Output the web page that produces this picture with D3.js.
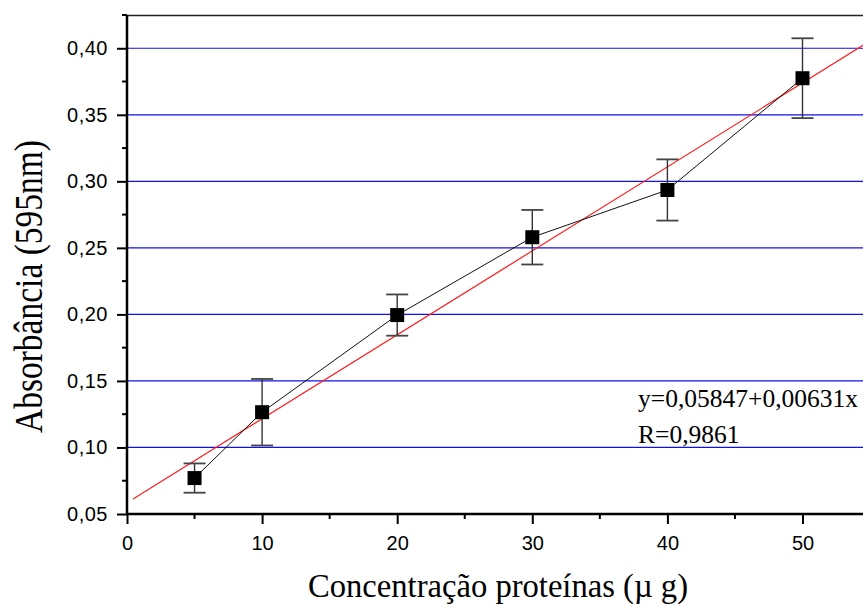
<!DOCTYPE html>
<html><head><meta charset="utf-8">
<script src="https://cdn.jsdelivr.net/npm/d3@7"></script>
<style>body{margin:0;background:#fff}svg{display:block}</style>
</head><body>
<svg id="c" width="863" height="604"></svg>
<script>
const concentrations = [5, 10, 20, 30, 40, 50];
const absorbance = [0.077, 0.1265, 0.1995, 0.258, 0.2935, 0.3775];
const errors = [0.011, 0.025, 0.0155, 0.0205, 0.023, 0.030];
const yTicks = [0.05, 0.10, 0.15, 0.20, 0.25, 0.30, 0.35, 0.40];
const xTicks = [0, 10, 20, 30, 40, 50];
const fitIntercept = 0.05847, fitSlope = 0.00631;
const fitRange = [0.45, 55];
const eqLines = ["y=0,05847+0,00631x", "R=0,9861"];

const svg = d3.select("#c");
const L = 127, T = 15, B = 514;
const x = d3.scaleLinear().domain([0, 55]).range([L, L + 13.51 * 55]);
const y = d3.scaleLinear().domain([0.05, 0.425]).range([B, T]);
const fmt = v => d3.format(".2f")(v).replace(".", ",");
const serif = "'Liberation Serif', 'Times New Roman', serif";
const sans = "'Liberation Sans', Arial, sans-serif";

// gridlines
svg.append("g").selectAll("line").data(yTicks.filter(v => v > 0.05)).join("line")
  .attr("x1", L).attr("x2", 863).attr("y1", d => y(d)).attr("y2", d => y(d))
  .attr("stroke", "#1010e8").attr("stroke-width", 1.2);

// top border
svg.append("line").attr("x1", L).attr("x2", 863).attr("y1", T + 0.5).attr("y2", T + 0.5)
  .attr("stroke", "#222").attr("stroke-width", 1.4);

// y axis
const yAxis = svg.append("g").attr("transform", `translate(${L},0)`)
  .call(d3.axisLeft(y).tickValues(yTicks).tickFormat(fmt).tickSize(10).tickSizeOuter(0));
yAxis.append("g").selectAll("line").data(d3.range(0.075, 0.426, 0.05)).join("line")
  .attr("x1", -5).attr("x2", 0).attr("y1", d => y(d)).attr("y2", d => y(d)).attr("stroke", "#000").attr("stroke-width", 2);
// x axis
const xAxis = svg.append("g").attr("transform", `translate(0,${B})`)
  .call(d3.axisBottom(x).tickValues(xTicks).tickSize(10).tickSizeOuter(0));
xAxis.append("g").selectAll("line").data([5, 15, 25, 35, 45]).join("line")
  .attr("x1", d => x(d)).attr("x2", d => x(d)).attr("y1", 0).attr("y2", 5).attr("stroke", "#000").attr("stroke-width", 2);

[yAxis, xAxis].forEach(g => {
  g.attr("font-size", null).attr("font-family", null);
  g.select(".domain").attr("stroke", "#000").attr("stroke-width", 2.5);
  g.selectAll(".tick line").attr("stroke", "#000").attr("stroke-width", 2);
  g.selectAll(".tick text").style("font-family", sans).style("font-size", "20px").attr("fill", "#000");
});
yAxis.select(".domain").attr("d", `M0,${B}V${T}`);
xAxis.select(".domain").attr("d", `M${L},0H863`);
yAxis.selectAll(".tick text").attr("x", -19).style("letter-spacing", "0.5px");
xAxis.selectAll(".tick text").attr("y", 22);

// fit line
svg.append("line")
  .attr("x1", x(fitRange[0])).attr("y1", y(fitIntercept + fitSlope * fitRange[0]))
  .attr("x2", x(fitRange[1])).attr("y2", y(fitIntercept + fitSlope * fitRange[1]))
  .attr("stroke", "#ff2020").attr("stroke-width", 1.2);

const pts = concentrations.map((c, i) => ({ c, a: absorbance[i], e: errors[i] }));
// connecting line
svg.append("path").datum(pts)
  .attr("d", d3.line().x(d => x(d.c)).y(d => y(d.a)))
  .attr("fill", "none").attr("stroke", "#111").attr("stroke-width", 1);

// error bars
const eb = svg.append("g");
pts.forEach(d => {
  eb.append("line").attr("x1", x(d.c)).attr("x2", x(d.c)).attr("y1", y(d.a + d.e)).attr("y2", y(d.a - d.e))
    .attr("stroke", "#333").attr("stroke-width", 1.4);
  [d.a + d.e, d.a - d.e].forEach(v => eb.append("line").attr("x1", x(d.c) - 11).attr("x2", x(d.c) + 11).attr("y1", y(v)).attr("y2", y(v))
    .attr("stroke", "#444").attr("stroke-width", 1.8));
});

// markers
svg.append("g").selectAll("rect").data(pts).join("rect")
  .attr("x", d => x(d.c) - 7).attr("y", d => y(d.a) - 7).attr("width", 14).attr("height", 14).attr("fill", "#000");

// equation
svg.append("g").selectAll("text").data(eqLines).join("text")
  .attr("x", 638).attr("y", (d, i) => 407 + i * 36)
  .attr("font-family", serif).attr("font-size", 25.5).text(d => d);

// axis titles
svg.append("text").attr("x", 498).attr("y", 597).attr("text-anchor", "middle")
  .attr("font-family", serif).attr("font-size", 34)
  .attr("textLength", 380).attr("lengthAdjust", "spacingAndGlyphs")
  .text("Concentração proteínas (µ g)");
svg.append("text").attr("transform", "translate(42,286.5) rotate(-90)").attr("text-anchor", "middle")
  .attr("font-family", serif).attr("font-size", 40)
  .attr("textLength", 293).attr("lengthAdjust", "spacingAndGlyphs")
  .text("Absorbância (595nm)");
</script>
</body></html>
